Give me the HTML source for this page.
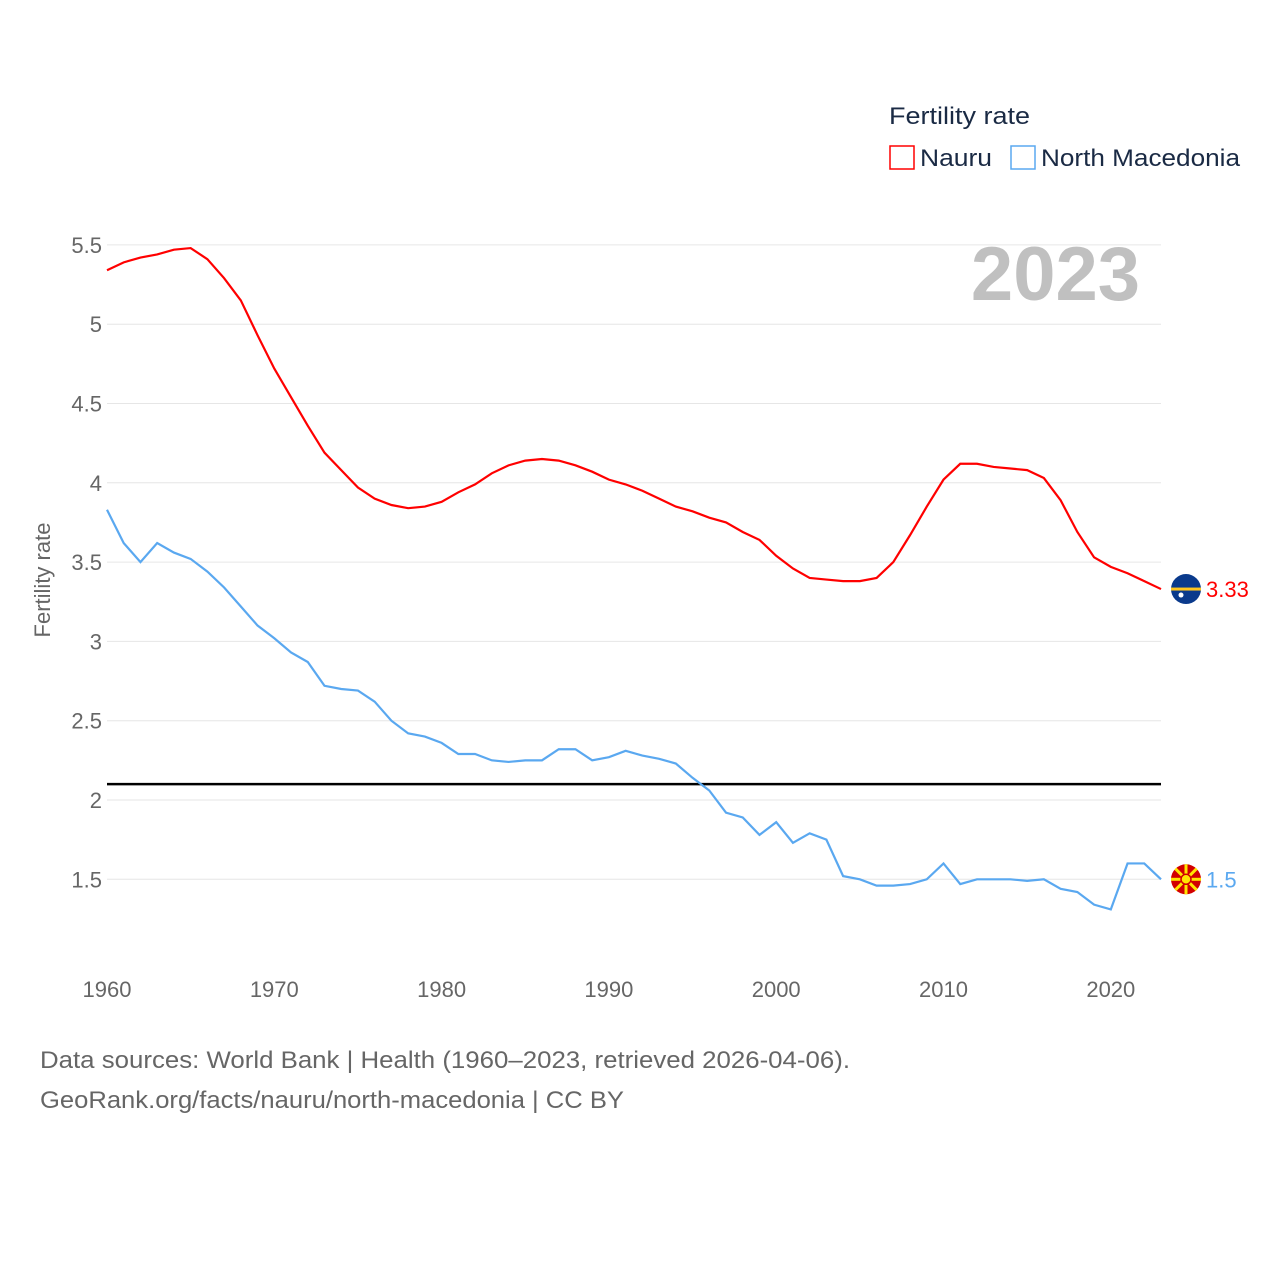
<!DOCTYPE html>
<html><head><meta charset="utf-8"><style>
body{margin:0;background:#fff;}
svg text{font-family:"Liberation Sans",sans-serif;}
</style></head><body>
<svg id="chart" width="1280" height="1280">
<text x="889" y="124" font-size="24" fill="#1a2a44" textLength="141" lengthAdjust="spacingAndGlyphs">Fertility rate</text>
<g><rect x="890" y="146" width="24" height="23" fill="none" stroke="#ff0000" stroke-width="1.5"/><text x="920" y="166" font-size="24" fill="#1a2a44" textLength="72" lengthAdjust="spacingAndGlyphs">Nauru</text></g>
<g><rect x="1011" y="146" width="24" height="23" fill="none" stroke="#5aa8f0" stroke-width="1.5"/><text x="1041" y="166" font-size="24" fill="#1a2a44" textLength="199" lengthAdjust="spacingAndGlyphs">North Macedonia</text></g>
<text x="1140" y="300" font-size="76" font-weight="bold" fill="#c0c0c0" text-anchor="end">2023</text>
<text transform="translate(50,580) rotate(-90)" font-size="22" fill="#666" text-anchor="middle">Fertility rate</text>
<g id="grid"></g><g id="series"></g>
<text x="40" y="1068" font-size="24" fill="#666" textLength="810" lengthAdjust="spacingAndGlyphs">Data sources: World Bank | Health (1960–2023, retrieved 2026-04-06).</text>
<text x="40" y="1108" font-size="24" fill="#666" textLength="584" lengthAdjust="spacingAndGlyphs">GeoRank.org/facts/nauru/north-macedonia | CC BY</text>
</svg>
<script>
const years=[];for(let y=1960;y<=2023;y++)years.push(y);
const nauru=[5.34,5.39,5.42,5.44,5.47,5.48,5.41,5.29,5.15,4.93,4.72,4.54,4.36,4.19,4.08,3.97,3.90,3.86,3.84,3.85,3.88,3.94,3.99,4.06,4.11,4.14,4.15,4.14,4.11,4.07,4.02,3.99,3.95,3.90,3.85,3.82,3.78,3.75,3.69,3.64,3.54,3.46,3.40,3.39,3.38,3.38,3.40,3.50,3.67,3.85,4.02,4.12,4.12,4.10,4.09,4.08,4.03,3.89,3.69,3.53,3.47,3.43,3.38,3.33];
const macedonia=[3.83,3.62,3.50,3.62,3.56,3.52,3.44,3.34,3.22,3.10,3.02,2.93,2.87,2.72,2.70,2.69,2.62,2.50,2.42,2.40,2.36,2.29,2.29,2.25,2.24,2.25,2.25,2.32,2.32,2.25,2.27,2.31,2.28,2.26,2.23,2.14,2.06,1.92,1.89,1.78,1.86,1.73,1.79,1.75,1.52,1.50,1.46,1.46,1.47,1.50,1.60,1.47,1.50,1.50,1.50,1.49,1.50,1.44,1.42,1.34,1.31,1.60,1.60,1.50];
const yTicks=[1.5,2,2.5,3,3.5,4,4.5,5,5.5];
const xTicks=[1960,1970,1980,1990,2000,2010,2020];
const replacement=2.1;
const NS='http://www.w3.org/2000/svg';
const X=y=>107+(y-1960)*(1161-107)/63;
const Y=v=>800-(v-2)*158.6;
function el(t,a,p){const e=document.createElementNS(NS,t);for(const k in a)e.setAttribute(k,a[k]);p.appendChild(e);return e;}
const g=document.getElementById('grid'),s=document.getElementById('series');
yTicks.forEach(v=>{
 const l=el('line',{x1:107,x2:1161,y1:Y(v),y2:Y(v),stroke:'#e6e6e6','stroke-width':1},g);
 
 
 const t=el('text',{x:102,y:Y(v)+8,'font-size':22,fill:'#666','text-anchor':'end'},g);t.textContent=String(v);
 
 
});
xTicks.forEach(v=>{
 const t=el('text',{x:X(v),y:997,'font-size':22,fill:'#666','text-anchor':'middle'},g);t.textContent=String(v);
 
 
});
const rl=el('line',{x1:107,x2:1161,y1:Y(replacement),y2:Y(replacement),stroke:'#000','stroke-width':2.5},g);


function line(arr,col,name){
 const p=el('polyline',{points:arr.map((v,i)=>X(years[i])+','+Y(v)).join(' '),fill:'none',stroke:col,'stroke-width':2.2},s);
 
 
}
line(macedonia,'#5aa8f0','north-macedonia-line');
line(nauru,'#ff0000','nauru-line');
const nl=nauru[nauru.length-1],ml=macedonia[macedonia.length-1];
const f1=el('g',{},s);


el('circle',{cx:1186,cy:Y(nl),r:15,fill:'#0a3a8c'},f1);
el('rect',{x:1171,y:Y(nl)-1.5,width:30,height:3,fill:'#ffc61e'},f1);
el('circle',{cx:1181,cy:Y(nl)+6,r:2.5,fill:'#fff'},f1);
const t1=el('text',{x:1206,y:Y(nl)+8,'font-size':22,fill:'#ff0000'},s);t1.textContent=nl.toFixed(2);


const f2=el('g',{},s);


el('circle',{cx:1186,cy:Y(ml),r:15,fill:'#d20000'},f2);
for(let a=0;a<8;a++){const r=a*Math.PI/4;el('line',{x1:1186,y1:Y(ml),x2:1186+15*Math.cos(r),y2:Y(ml)+15*Math.sin(r),stroke:'#ffe600','stroke-width':3},f2);}
el('circle',{cx:1186,cy:Y(ml),r:5,fill:'#ffe600',stroke:'#d20000','stroke-width':1.5},f2);
const t2=el('text',{x:1206,y:Y(ml)+8,'font-size':22,fill:'#5aa8f0'},s);t2.textContent=String(ml);


</script>
</body></html>
